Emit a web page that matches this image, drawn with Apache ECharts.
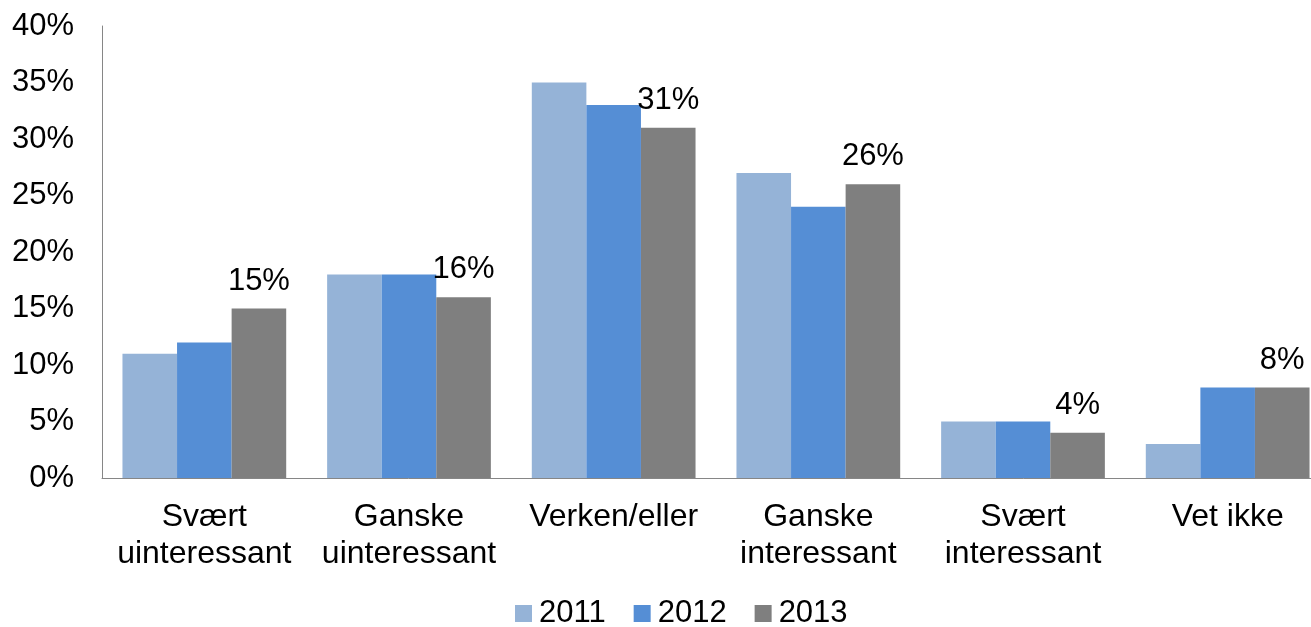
<!DOCTYPE html>
<html>
<head>
<meta charset="utf-8">
<script src="https://cdn.jsdelivr.net/npm/echarts@6/dist/echarts.min.js"></script>
<style>
html,body{margin:0;padding:0;background:#fff;overflow:hidden;}
#chart{width:1340px;height:627px;}
</style>
</head>
<body>
<div id="chart"></div>
<script>
const categories = ["Svært\nuinteressant", "Ganske\nuinteressant", "Verken/eller", "Ganske\ninteressant", "Svært\ninteressant", "Vet ikke"];
const seriesNames = ["2011", "2012", "2013"];
const values2011 = [11, 18, 35, 27, 5, 3];
const values2012 = [12, 18, 33, 24, 5, 8];
const values2013 = [15, 16, 31, 26, 4, 8];
const colors = ["#95B3D7", "#558ED5", "#7F7F7F"];

const font = '"Liberation Sans", Arial, sans-serif';
const chart = echarts.init(document.getElementById('chart'));
const allValues = [values2011, values2012, values2013];
chart.setOption({
  animation: false,
  color: colors,
  textStyle: { fontFamily: font },
  grid: { left: 102, top: 26, width: 1228, height: 452 },
  legend: {
    data: seriesNames,
    left: 515,
    top: 598,
    padding: 0,
    itemWidth: 17,
    itemHeight: 17,
    itemGap: 28,
    icon: 'rect',
    textStyle: { fontSize: 31, color: '#000', fontFamily: font, padding: [0, 0, 0, 2] }
  },
  xAxis: {
    type: 'category',
    data: categories,
    axisLine: { lineStyle: { color: '#868686', width: 1 } },
    axisTick: { show: false },
    axisLabel: { interval: 0, fontSize: 32, lineHeight: 37, color: '#000', margin: 21, fontFamily: font }
  },
  yAxis: {
    type: 'value',
    min: 0,
    max: 40,
    interval: 5,
    axisLine: { show: true, lineStyle: { color: '#868686', width: 1 } },
    axisTick: { show: false },
    splitLine: { show: false },
    axisLabel: { formatter: '{value}%', fontSize: 31, color: '#000', margin: 28, fontFamily: font }
  },
  series: seriesNames.map((name, i) => ({
    name: name,
    type: 'bar',
    data: allValues[i],
    barGap: '0%',
    barCategoryGap: '20%',
    itemStyle: { color: colors[i] },
    label: i === 2 ? {
      show: true,
      position: 'top',
      distance: 12,
      formatter: '{c}%',
      fontSize: 31,
      color: '#000',
      fontFamily: font
    } : { show: false }
  }))
});
</script>
</body>
</html>
